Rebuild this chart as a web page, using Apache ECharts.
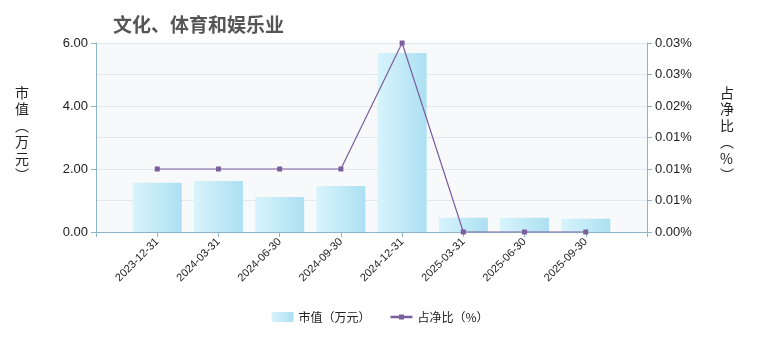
<!DOCTYPE html>
<html><head><meta charset="utf-8">
<script src="https://cdn.jsdelivr.net/npm/echarts@6/dist/echarts.min.js"></script>
<style>html,body{margin:0;padding:0;background:#fff}#c{width:760px;height:340px}</style>
</head><body><div id="c"></div>
<script>
var categories = ['', '2023-12-31', '2024-03-31', '2024-06-30', '2024-09-30', '2024-12-31', '2025-03-31', '2025-06-30', '2025-09-30', ''];
var marketValue = [null, 1.56, 1.62, 1.11, 1.46, 5.68, 0.45, 0.45, 0.42, null];
var navRatio = [null, 0.01, 0.01, 0.01, 0.01, 0.03, 0, 0, 0, null];
var titleText = '文化、体育和娱乐业';
var leftName = '市值（万元）';
var rightName = '占净比（%）';

var chart = echarts.init(document.getElementById('c'));
var font = 'Arial,"Liberation Sans","Noto Sans CJK SC",sans-serif';
var cjk = '"Noto Sans CJK SC",sans-serif';
function vert(s){return s.replace(/（/g,'︵').replace(/）/g,'︶').split('').join('\n');}
chart.setOption({
  animation: false,
  textStyle: {fontFamily: font},
  title: {text: titleText, left: 108, top: 10, textStyle: {fontSize: 19, fontWeight: 'bold', color: '#555', fontFamily: cjk}},
  graphic: [
    {type: 'text', left: 15, top: 84, style: {text: vert(leftName), font: '14px ' + cjk, fill: '#222', lineHeight: 16.5}},
    {type: 'text', left: 720, top: 84, style: {text: vert(rightName), font: '14px ' + cjk, fill: '#222', lineHeight: 16.5}}
  ],
  legend: {
    bottom: 12, left: 'center', itemGap: 20, itemWidth: 22, itemHeight: 10,
    textStyle: {fontSize: 12, color: '#222', fontFamily: cjk},
    data: [{name: '市值（万元）', icon: 'rect'},
           {name: '占净比（%）', icon: 'path://M0,3.8L22,3.8L22,6.2L0,6.2Z M8.5,2.5L13.5,2.5L13.5,7.5L8.5,7.5Z', itemStyle: {color: '#7b5e9c'}}]
  },
  grid: {left: 96, right: 113, top: 43, bottom: 108, show: true, backgroundColor: '#f8f9fb', borderWidth: 0},
  xAxis: {
    type: 'category', data: categories, boundaryGap: false,
    axisLine: {lineStyle: {color: '#8fb3cb'}},
    axisTick: {show: true, lineStyle: {color: '#8fb3cb'}},
    axisLabel: {rotate: 45, fontSize: 11, color: '#222', interval: 0, margin: 8, fontFamily: font}
  },
  yAxis: [
    {type: 'value', min: 0, max: 6, interval: 2,
     axisLine: {show: true, lineStyle: {color: '#8fb3cb'}},
     axisTick: {show: true, lineStyle: {color: '#8fb3cb'}},
     axisLabel: {formatter: function(v){return v.toFixed(2);}, fontSize: 13, color: '#222', margin: 8, fontFamily: font},
     splitLine: {lineStyle: {color: '#e2e7f0'}},
     minorTick: {show: false, splitNumber: 2},
     minorSplitLine: {show: true, lineStyle: {color: '#e2e7f0'}}
    },
    {type: 'value', min: 0, max: 0.03, interval: 0.005,
     axisLine: {show: true, lineStyle: {color: '#8fb3cb'}},
     axisTick: {show: true, lineStyle: {color: '#8fb3cb'}},
     axisLabel: {formatter: function(v){return v.toFixed(2) + '%';}, fontSize: 13, color: '#222', margin: 8, fontFamily: font},
     splitLine: {show: false}
    }
  ],
  series: [
    {name: '市值（万元）', type: 'bar', data: marketValue, barWidth: 49, yAxisIndex: 0,
     itemStyle: {color: new echarts.graphic.LinearGradient(0, 0, 1, 0, [{offset: 0, color: '#d8f4fc'}, {offset: 1, color: '#ace0f2'}])}},
    {name: '占净比（%）', type: 'line', data: navRatio, yAxisIndex: 1, symbol: 'rect', symbolSize: 5,
     lineStyle: {color: '#7b5e9c', width: 1.2}, itemStyle: {color: '#7b5e9c'}}
  ]
});
</script></body></html>
